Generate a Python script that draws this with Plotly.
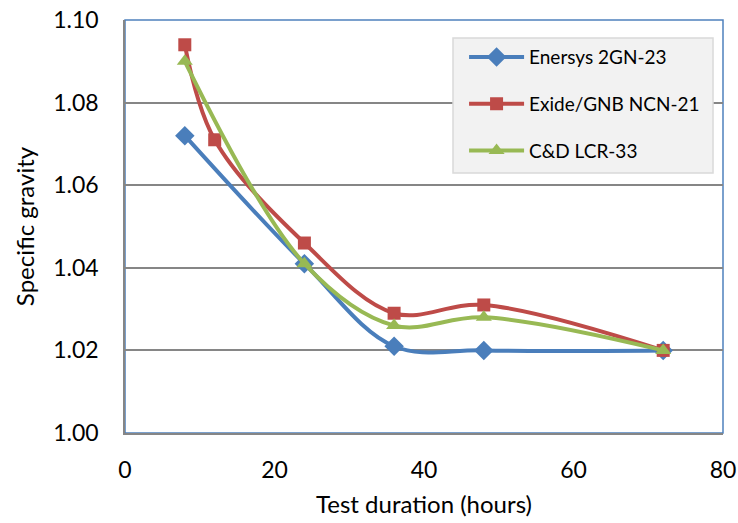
import plotly.graph_objects as go

# Test durations (hours) and measured specific gravity per battery model
hours_enersys = [8, 24, 36, 48, 72]
sg_enersys = [1.072, 1.041, 1.021, 1.020, 1.020]

hours_exide = [8, 12, 24, 36, 48, 72]
sg_exide = [1.094, 1.071, 1.046, 1.029, 1.031, 1.020]

hours_cd = [8, 24, 36, 48, 72]
sg_cd = [1.090, 1.041, 1.026, 1.028, 1.020]

x_ticks = [0, 20, 40, 60, 80]
y_ticks = [1.00, 1.02, 1.04, 1.06, 1.08, 1.10]

FONT = "Lato"

series = [
    ("Enersys 2GN-23", hours_enersys, sg_enersys, "#4A7EBB", "diamond", 15),
    ("Exide/GNB NCN-21", hours_exide, sg_exide, "#BE4B48", "square", 13),
    ("C&D LCR-33", hours_cd, sg_cd, "#98B954", "triangle-up", 14),
]

fig = go.Figure()
for i, (name, xs, ys, color, symbol, msize) in enumerate(series):
    fig.add_trace(go.Scatter(
        x=xs, y=ys, name=name, mode="lines+markers",
        line=dict(color=color, width=4, shape="spline", smoothing=1.0),
        marker=dict(symbol=symbol, size=msize, color=color),
        legendgroup=f"g{i}",
    ))

fig.update_layout(
    width=738, height=523,
    margin=dict(l=125, r=15, t=20, b=90, autoexpand=False),
    paper_bgcolor="white", plot_bgcolor="white",
    font=dict(family=FONT, size=23, color="#000000"),
    showlegend=True,
    legend=dict(
        x=0.567, y=0.956, xanchor="left", yanchor="top",
        bgcolor="rgba(0,0,0,0)", borderwidth=0,
        font=dict(family=FONT, size=19, color="#000000"),
        tracegroupgap=19, itemwidth=55,
    ),
    shapes=[
        # plot-area frame
        dict(type="rect", xref="paper", yref="paper", x0=0, y0=0, x1=1, y1=1,
             line=dict(color="#4F81BD", width=1.5), layer="below"),
        # legend panel
        dict(type="rect", xref="paper", yref="paper",
             x0=0.5485, x1=0.9833, y0=0.6295, y1=0.9564,
             fillcolor="#F2F2F2", line=dict(color="#D9D9D9", width=1.5),
             layer="above"),
    ],
)

fig.update_xaxes(
    range=[0, 80], tickvals=x_ticks, ticktext=[str(v) for v in x_ticks],
    showgrid=False, zeroline=False, automargin=False,
    showline=True, linecolor="#868686", linewidth=1.5,
    ticks="", ticklabelstandoff=16,
    title=dict(text="Test duration (hours)", font=dict(family=FONT, size=24), standoff=14),
)
fig.update_yaxes(
    range=[1.00, 1.10], tickvals=y_ticks, ticktext=[f"{v:.2f}" for v in y_ticks],
    showgrid=True, gridcolor="#868686", gridwidth=1.5, zeroline=False, automargin=False,
    showline=True, linecolor="#868686", linewidth=1.5,
    ticks="", ticklabelstandoff=20,
    title=dict(text="Specific gravity", font=dict(family=FONT, size=24), standoff=12),
)

fig.write_html("out.html")
